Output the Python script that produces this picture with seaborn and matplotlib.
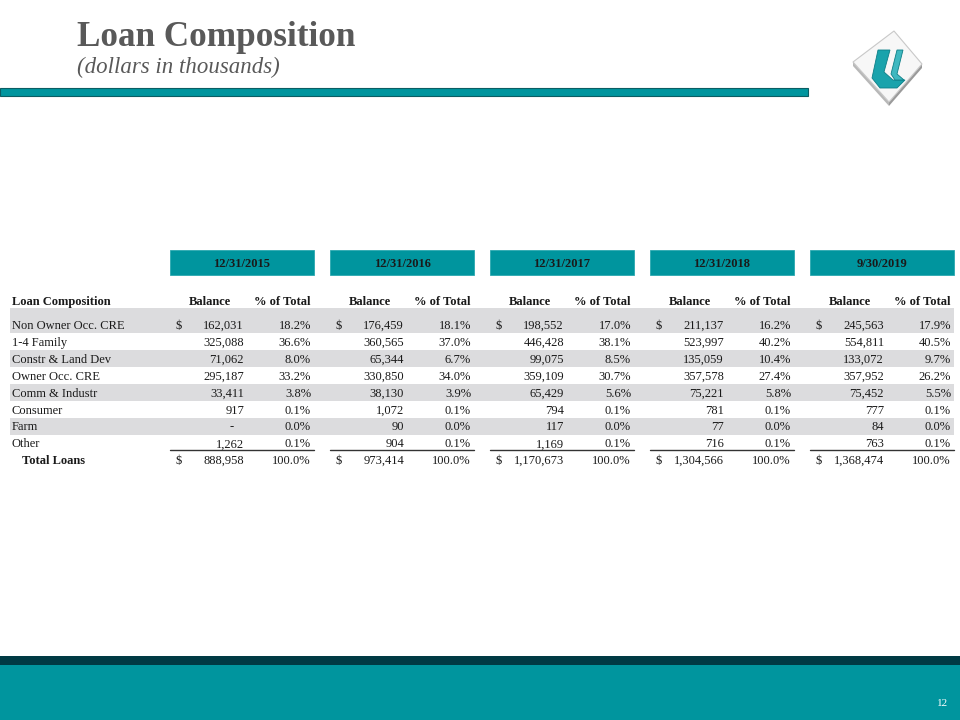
import matplotlib
matplotlib.use("Agg")
import matplotlib.pyplot as plt
from matplotlib.patches import Rectangle, Polygon
import seaborn as sns

# ---------------- data ----------------
categories = ["Non Owner Occ. CRE", "1-4 Family", "Constr & Land Dev", "Owner Occ. CRE",
              "Comm & Industr", "Consumer", "Farm", "Other"]
periods = ["12/31/2015", "12/31/2016", "12/31/2017", "12/31/2018", "9/30/2019"]
bal_2015 = [162031, 325088, 71062, 295187, 33411, 917, 0, 1262]
pct_2015 = [18.2, 36.6, 8.0, 33.2, 3.8, 0.1, 0.0, 0.1]
bal_2016 = [176459, 360565, 65344, 330850, 38130, 1072, 90, 904]
pct_2016 = [18.1, 37.0, 6.7, 34.0, 3.9, 0.1, 0.0, 0.1]
bal_2017 = [198552, 446428, 99075, 359109, 65429, 794, 117, 1169]
pct_2017 = [17.0, 38.1, 8.5, 30.7, 5.6, 0.1, 0.0, 0.1]
bal_2018 = [211137, 523997, 135059, 357578, 75221, 781, 77, 716]
pct_2018 = [16.2, 40.2, 10.4, 27.4, 5.8, 0.1, 0.0, 0.1]
bal_2019 = [245563, 554811, 133072, 357952, 75452, 777, 84, 763]
pct_2019 = [17.9, 40.5, 9.7, 26.2, 5.5, 0.1, 0.0, 0.1]
total_bal = [888958, 973414, 1170673, 1304566, 1368474]
total_pct = [100.0, 100.0, 100.0, 100.0, 100.0]
total_label = "Total Loans"
title = "Loan Composition"
subtitle = "(dollars in thousands)"
page_number = "12"

balances = [bal_2015, bal_2016, bal_2017, bal_2018, bal_2019]
percents = [pct_2015, pct_2016, pct_2017, pct_2018, pct_2019]

# ---------------- style ----------------
sns.set_theme(style="white")
plt.rcParams["font.family"] = ["Liberation Serif", "DejaVu Serif"]

TEAL = "#00959e"
DARK = "#003a44"
BAND = "#dcdcde"
TXT = "#1a1a1a"
GREY_TITLE = "#595959"

fig = plt.figure(figsize=(9.6, 7.2), dpi=100)
ax = fig.add_axes([0, 0, 1, 1])
ax.set_xlim(0, 960)
ax.set_ylim(720, 0)
ax.axis("off")

# title area
ax.text(77, 46, title, fontsize=25.3, fontweight="bold", color=GREY_TITLE, va="baseline", ha="left")
ax.text(77, 73, subtitle, fontsize=16.5, style="italic", color=GREY_TITLE, va="baseline", ha="left")
ax.add_patch(Rectangle((0, 88), 808, 8, facecolor=TEAL, edgecolor="#0b5d63", lw=0.8))

# logo (diamond tile with 3D edge)
ax.add_patch(Polygon([(853, 62), (889, 102), (889, 106), (853, 66)], closed=True,
                     facecolor="#b8b8b8", edgecolor="none"))
ax.add_patch(Polygon([(889, 102), (922, 64), (922, 68), (889, 106)], closed=True,
                     facecolor="#9a9a9a", edgecolor="none"))
ax.add_patch(Polygon([(894, 31), (922, 64), (889, 102), (853, 62)], closed=True,
                     facecolor="#f7f7f7", edgecolor="#c8c8c8", lw=0.8))
ax.add_patch(Polygon([(878, 50), (890, 50), (884, 72), (893, 80), (905, 80), (897, 88),
                      (880, 88), (872, 78)], closed=True, facecolor="#1aa3ac", edgecolor="#0d7f87", lw=0.6))
ax.add_patch(Polygon([(897, 50), (903, 50), (897, 74), (904, 80), (895, 80), (891, 74)], closed=True,
                     facecolor="#3fb8c0", edgecolor="#0d7f87", lw=0.6))

# footer
ax.add_patch(Rectangle((0, 656), 960, 9, facecolor=DARK, edgecolor="none"))
ax.add_patch(Rectangle((0, 665), 960, 55, facecolor=TEAL, edgecolor="none"))
ax.text(943, 703, page_number, fontsize=8, color="white", ha="center", va="center")

# ---------------- table layout ----------------
group_x0 = 170
group_w = 144
group_step = 160
row_y0 = 325
row_step = 16.9
band_left, band_right = 10, 954
fs = 9
bl = 4  # baseline offset from row centre


def cell(x, y, s, ha="left", bold=False):
    ax.text(x, y + bl, s, fontsize=fs, color=TXT, ha=ha, va="baseline",
            fontweight="bold" if bold else "normal")


# bands on alternate rows
for i in range(len(categories)):
    if i % 2 == 0:
        yc = row_y0 + i * row_step
        top = yc - row_step / 2
        h = row_step
        if i == 0:
            top = yc - 17
            h = yc + row_step / 2 - top
        ax.add_patch(Rectangle((band_left, top), band_right - band_left, h,
                               facecolor=BAND, edgecolor="none", zorder=0))

# column header row
hdr_y = 301
cell(12, hdr_y, "Loan Composition", bold=True)

for i, cat in enumerate(categories):
    cell(12, row_y0 + i * row_step, cat)
total_y = row_y0 + len(categories) * row_step - 0.5
cell(22, total_y, total_label, bold=True)

for g, per in enumerate(periods):
    x0 = group_x0 + g * group_step
    ax.add_patch(Rectangle((x0, 250), group_w, 25, facecolor=TEAL, edgecolor="#2aa8b0", lw=0.6))
    cell(x0 + group_w / 2, 263, per, ha="center", bold=True)
    cell(x0 + 40, hdr_y, "Balance", ha="center", bold=True)
    cell(x0 + 141, hdr_y, "% of Total", ha="right", bold=True)
    for i in range(len(categories)):
        yc = row_y0 + i * row_step
        b = balances[g][i]
        if i == 0:
            cell(x0 + 6, yc, "$")
        if b == 0:
            cell(x0 + 64, yc, "-", ha="right")
        else:
            cell(x0 + 74, yc, f"{b:,}", ha="right")
        cell(x0 + 141, yc, f"{percents[g][i]:.1f}%", ha="right")
    # total line and row
    ax.plot([x0, x0 + group_w], [total_y - 10, total_y - 10], color="#333333", lw=1.0)
    cell(x0 + 6, total_y, "$")
    cell(x0 + 74, total_y, f"{total_bal[g]:,}", ha="right")
    cell(x0 + 141, total_y, f"{total_pct[g]:.1f}%", ha="right")

fig.savefig("out.png", dpi=100, facecolor="white")
